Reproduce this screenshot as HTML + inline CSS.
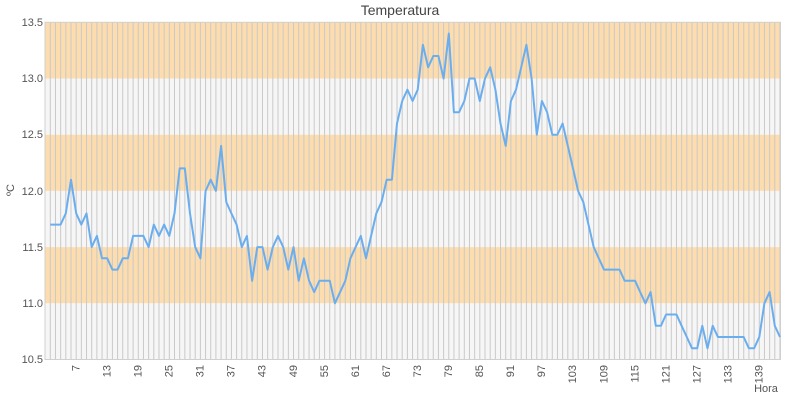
<!DOCTYPE html>
<html><head><meta charset="utf-8"><style>
html,body{margin:0;padding:0;background:#fff;width:800px;height:400px;overflow:hidden}
svg text{font-family:"Liberation Sans",sans-serif;fill:#555;font-size:11px}
</style></head><body>
<svg id="s" width="800" height="400" xmlns="http://www.w3.org/2000/svg">
<rect x="45" y="22.3" width="735.5" height="56.2" fill="#fddcae"/>
<rect x="45" y="78.5" width="735.5" height="56.2" fill="#f6f6f6"/>
<rect x="45" y="134.7" width="735.5" height="56.2" fill="#fddcae"/>
<rect x="45" y="190.9" width="735.5" height="56.2" fill="#f6f6f6"/>
<rect x="45" y="247.1" width="735.5" height="56.2" fill="#fddcae"/>
<rect x="45" y="303.3" width="735.5" height="56.2" fill="#f6f6f6"/>
<g id="grid" stroke="#c9c9c9" stroke-width="1"></g>
<rect x="45" y="22.3" width="735.5" height="337.2" fill="none" stroke="#d0d0d0" stroke-width="1"/>
<polyline id="ln" fill="none" stroke="#6aaef0" stroke-width="2" stroke-linejoin="round" points=""/>
<text x="400" y="15" text-anchor="middle" style="font-size:14px;fill:#444">Temperatura</text>
<g text-anchor="end">
<text x="43" y="26">13.5</text><text x="43" y="82">13.0</text><text x="43" y="138">12.5</text>
<text x="43" y="195">12.0</text><text x="43" y="251">11.5</text><text x="43" y="307">11.0</text>
<text x="43" y="363">10.5</text>
</g>
<text transform="translate(14,190) rotate(-90)" text-anchor="middle">ºC</text>
<text x="766" y="392" text-anchor="middle">Hora</text>
<g id="xl" text-anchor="end">
<text transform="translate(79.4,365) rotate(-90)">7</text>
<text transform="translate(110.5,365) rotate(-90)">13</text>
<text transform="translate(141.5,365) rotate(-90)">19</text>
<text transform="translate(172.6,365) rotate(-90)">25</text>
<text transform="translate(203.6,365) rotate(-90)">31</text>
<text transform="translate(234.7,365) rotate(-90)">37</text>
<text transform="translate(265.7,365) rotate(-90)">43</text>
<text transform="translate(296.8,365) rotate(-90)">49</text>
<text transform="translate(327.8,365) rotate(-90)">55</text>
<text transform="translate(358.9,365) rotate(-90)">61</text>
<text transform="translate(389.9,365) rotate(-90)">67</text>
<text transform="translate(421.0,365) rotate(-90)">73</text>
<text transform="translate(452.0,365) rotate(-90)">79</text>
<text transform="translate(483.1,365) rotate(-90)">85</text>
<text transform="translate(514.1,365) rotate(-90)">91</text>
<text transform="translate(545.2,365) rotate(-90)">97</text>
<text transform="translate(576.2,365) rotate(-90)">103</text>
<text transform="translate(607.3,365) rotate(-90)">109</text>
<text transform="translate(638.3,365) rotate(-90)">115</text>
<text transform="translate(669.4,365) rotate(-90)">121</text>
<text transform="translate(700.4,365) rotate(-90)">127</text>
<text transform="translate(731.5,365) rotate(-90)">133</text>
<text transform="translate(762.5,365) rotate(-90)">139</text>
</g>
</svg>
<script>
var d=[11.7,11.7,11.7,11.8,12.1,11.8,11.7,11.8,11.5,11.6,
11.4,11.4,11.3,11.3,11.4,11.4,11.6,11.6,11.6,11.5,
11.7,11.6,11.7,11.6,11.8,12.2,12.2,11.8,11.5,11.4,
12.0,12.1,12.0,12.4,11.9,11.8,11.7,11.5,11.6,11.2,
11.5,11.5,11.3,11.5,11.6,11.5,11.3,11.5,11.2,11.4,
11.2,11.1,11.2,11.2,11.2,11.0,11.1,11.2,11.4,11.5,
11.6,11.4,11.6,11.8,11.9,12.1,12.1,12.6,12.8,12.9,
12.8,12.9,13.3,13.1,13.2,13.2,13.0,13.4,12.7,12.7,
12.8,13.0,13.0,12.8,13.0,13.1,12.9,12.6,12.4,12.8,
12.9,13.1,13.3,13.0,12.5,12.8,12.7,12.5,12.5,12.6,
12.4,12.2,12.0,11.9,11.7,11.5,11.4,11.3,11.3,11.3,
11.3,11.2,11.2,11.2,11.1,11.0,11.1,10.8,10.8,10.9,
10.9,10.9,10.8,10.7,10.6,10.6,10.8,10.6,10.8,10.7,
10.7,10.7,10.7,10.7,10.7,10.6,10.6,10.7,11.0,11.1,
10.8,10.7];
var ns="http://www.w3.org/2000/svg",g=document.getElementById('grid'),p=[];
for(var i=0;i<d.length;i++){var x=50.3+i*5.175,y=359.5-(d[i]-10.5)*112.4;p.push(x.toFixed(1)+','+y.toFixed(1));
var l=document.createElementNS(ns,'line');l.setAttribute('x1',x);l.setAttribute('x2',x);l.setAttribute('y1',22.3);l.setAttribute('y2',359.5);g.appendChild(l);}
document.getElementById('ln').setAttribute('points',p.join(' '));
</script>
</body></html>
